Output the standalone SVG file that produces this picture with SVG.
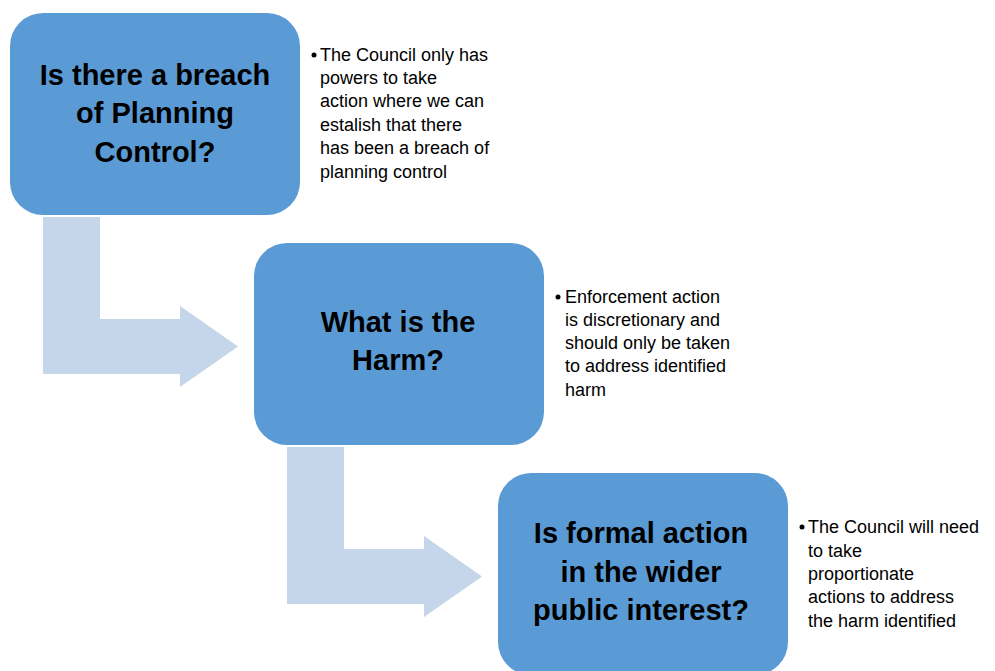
<svg xmlns="http://www.w3.org/2000/svg" width="995" height="671" viewBox="0 0 995 671">
<style>
.box{fill:#5B9BD5;}
.arrow{fill:#C5D5EA;}
.title{font-family:"Liberation Sans",Arial,sans-serif;font-weight:bold;font-size:29px;fill:#000;text-anchor:middle;}
.body{font-family:"Liberation Sans",Arial,sans-serif;font-size:18px;fill:#000;}
</style>
<rect width="995" height="671" fill="#fff"/>
<g id="connectors">
<path class="arrow" d="M43,217 H100 V319 H180 V306 L238,346.5 L180,387 V374 H43 Z"/>
<path class="arrow" d="M287,447 H344 V549 H424 V536 L482,576.5 L424,617 V604 H287 Z"/>
</g>
<g id="node1">
<rect class="box" x="10" y="13" width="290" height="202" rx="33"/>
<text class="title" x="155" y="85">Is there a breach</text>
<text class="title" x="155" y="123">of Planning</text>
<text class="title" x="155" y="162">Control?</text>
</g>
<g id="note1">
<circle cx="314" cy="55" r="2.5"/>
<text class="body" x="320" y="61">The Council only has</text>
<text class="body" x="320" y="84">powers to take</text>
<text class="body" x="320" y="107">action where we can</text>
<text class="body" x="320" y="131">estalish that there</text>
<text class="body" x="320" y="154">has been a breach of</text>
<text class="body" x="320" y="178">planning control</text>
</g>
<g id="node2">
<rect class="box" x="254" y="243" width="290" height="202" rx="33"/>
<text class="title" x="398" y="332">What is the</text>
<text class="title" x="398" y="370">Harm?</text>
</g>
<g id="note2">
<circle cx="558" cy="297" r="2.5"/>
<text class="body" x="565" y="303">Enforcement action</text>
<text class="body" x="565" y="326">is discretionary and</text>
<text class="body" x="565" y="349">should only be taken</text>
<text class="body" x="565" y="372">to address identified</text>
<text class="body" x="565" y="396">harm</text>
</g>
<g id="node3">
<rect class="box" x="498" y="473" width="290" height="202" rx="33"/>
<text class="title" x="641" y="543">Is formal action</text>
<text class="title" x="641" y="582">in the wider</text>
<text class="title" x="641" y="620">public interest?</text>
</g>
<g id="note3">
<circle cx="802" cy="527" r="2.5"/>
<text class="body" x="808" y="533">The Council will need</text>
<text class="body" x="808" y="557">to take</text>
<text class="body" x="808" y="580">proportionate</text>
<text class="body" x="808" y="603">actions to address</text>
<text class="body" x="808" y="627">the harm identified</text>
</g>
</svg>
